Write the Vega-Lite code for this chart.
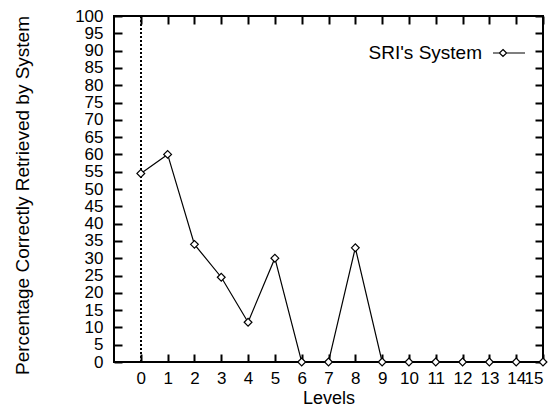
{
  "$schema": "https://vega.github.io/schema/vega-lite/v6.json",
  "width": 429,
  "height": 346,
  "autosize": {"type": "none"},
  "padding": {"left": 114, "top": 16, "right": 11, "bottom": 45},
  "background": "white",
  "config": {
    "view": {"stroke": "black", "strokeWidth": 2},
    "font": "Liberation Sans",
    "axis": {
      "domain": false,
      "grid": false,
      "tickSize": -8,
      "tickWidth": 2,
      "tickColor": "black",
      "labelFont": "Liberation Sans",
      "labelFontSize": 17,
      "labelColor": "black",
      "labelOverlap": false,
      "titleFont": "Liberation Sans",
      "titleFontWeight": "normal",
      "titleColor": "black",
      "titleFontSize": 18
    }
  },
  "data": {
    "values": [
      {"level": 0, "pct": 54.5},
      {"level": 1, "pct": 60},
      {"level": 2, "pct": 34},
      {"level": 3, "pct": 24.5},
      {"level": 4, "pct": 11.5},
      {"level": 5, "pct": 30},
      {"level": 6, "pct": 0},
      {"level": 7, "pct": 0},
      {"level": 8, "pct": 33},
      {"level": 9, "pct": 0},
      {"level": 10, "pct": 0},
      {"level": 11, "pct": 0},
      {"level": 12, "pct": 0},
      {"level": 13, "pct": 0},
      {"level": 14, "pct": 0},
      {"level": 15, "pct": 0}
    ]
  },
  "resolve": {"axis": {"x": "independent", "y": "independent"}},
  "layer": [
    {
      "mark": {"type": "rule", "strokeDash": [2, 2], "strokeWidth": 1, "color": "black"},
      "encoding": {"x": {"datum": 0, "type": "quantitative", "axis": null}}
    },
    {
      "mark": {"type": "line", "strokeWidth": 1.2},
      "encoding": {
        "x": {
          "field": "level", "type": "quantitative",
          "scale": {"domain": [-1, 15], "nice": false, "zero": false},
          "axis": {"values": [0,1,2,3,4,5,6,7,8,9,10,11,12,13,14,15], "title": "Levels", "labelPadding": 16, "titlePadding": 3}
        },
        "y": {
          "field": "pct", "type": "quantitative",
          "scale": {"domain": [0, 100], "nice": false},
          "axis": {"values": [0,5,10,15,20,25,30,35,40,45,50,55,60,65,70,75,80,85,90,95,100], "title": "Percentage Correctly Retrieved by System", "labelPadding": 19, "titlePadding": 42, "titleFontSize": 19, "titleY": 179}
        },
        "stroke": {
          "datum": "SRI's System", "type": "nominal",
          "scale": {"range": ["black"]},
          "legend": {
            "title": null,
            "orient": "none",
            "legendX": 378,
            "legendY": 20,
            "symbolType": "M-1,0H-0.6M-0.15,0H1M-0.375,-0.22L-0.15,0L-0.375,0.22L-0.6,0Z",
            "symbolSize": 1024,
            "symbolStrokeWidth": 1.2,
            "symbolFillColor": "white",
            "symbolStrokeColor": "black",
            "labelAlign": "right",
            "labelOffset": -44,
            "labelFontSize": 19,
            "labelFont": "Liberation Sans",
            "labelColor": "black",
            "labelLimit": 300
          }
        }
      }
    },
    {
      "mark": {"type": "point", "shape": "diamond", "filled": true, "fill": "white", "stroke": "black", "strokeWidth": 1.2, "size": 60, "opacity": 1},
      "encoding": {
        "x": {"field": "level", "type": "quantitative", "axis": {"orient": "top", "labels": false, "title": null, "values": [0,1,2,3,4,5,6,7,8,9,10,11,12,13,14,15]}},
        "y": {"field": "pct", "type": "quantitative", "axis": {"orient": "right", "labels": false, "title": null, "values": [0,5,10,15,20,25,30,35,40,45,50,55,60,65,70,75,80,85,90,95,100]}}
      }
    }
  ]
}
